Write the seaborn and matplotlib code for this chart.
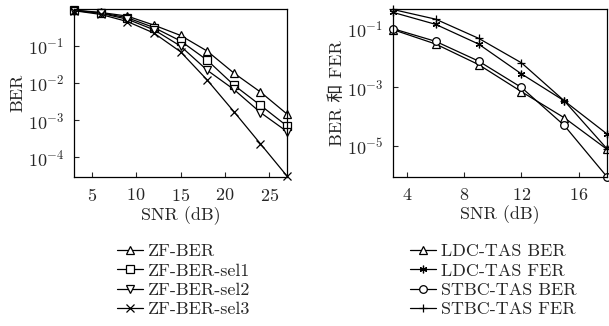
import matplotlib
matplotlib.use("Agg")
import matplotlib.pyplot as plt
import numpy as np
import pandas as pd
import seaborn as sns
from matplotlib.ticker import LogFormatterMathtext, NullLocator

# left panel: ZF BER curves
snr_left = [3, 6, 9, 12, 15, 18, 21, 24, 27]
zf_ber = [0.91, 0.79, 0.63, 0.36, 0.19, 0.072, 0.0185, 0.0057, 0.00145]
zf_sel1 = [0.90, 0.77, 0.57, 0.31, 0.135, 0.041, 0.0088, 0.0025, 0.00069]
zf_sel2 = [0.89, 0.75, 0.52, 0.27, 0.098, 0.022, 0.0067, 0.0016, 0.00049]
zf_sel3 = [0.88, 0.70, 0.45, 0.22, 0.069, 0.012, 0.0017, 0.00023, 0.000031]

# right panel: LDC-TAS vs STBC-TAS
snr_right = [3, 6, 9, 12, 15, 18]
ldc_ber = [0.093, 0.030, 0.0060, 0.00072, 0.000093, 0.0000078]
ldc_fer = [0.36, 0.14, 0.030, 0.0029, 0.00035, 0.000026]
stbc_ber = [0.10, 0.037, 0.0079, 0.0010, 0.000051, 0.00000090]
stbc_fer = [0.45, 0.21, 0.047, 0.0069, 0.00035, 0.0000081]

FS = 13

sns.set_style("ticks")
plt.rcParams["font.family"] = ["cmr10", "Noto Sans CJK SC"]
plt.rcParams["mathtext.fontset"] = "cm"
plt.rcParams["axes.formatter.use_mathtext"] = True
plt.rcParams["axes.unicode_minus"] = False
plt.rcParams["xtick.direction"] = "in"
plt.rcParams["ytick.direction"] = "in"
plt.rcParams["font.size"] = FS

fig = plt.figure(figsize=(6.09, 3.26), dpi=100)
ax1 = fig.add_axes([0.1215, 0.457, 0.350, 0.514])
ax2 = fig.add_axes([0.645, 0.457, 0.352, 0.514])

mk = dict(color="black", linewidth=0.9, markersize=5.5, markerfacecolor="white",
          markeredgecolor="black", markeredgewidth=0.9, clip_on=False)

left_series = [("ZF-BER", zf_ber, "^"), ("ZF-BER-sel1", zf_sel1, "s"),
               ("ZF-BER-sel2", zf_sel2, "v"), ("ZF-BER-sel3", zf_sel3, "x")]
for name, vals, m in left_series:
    sns.lineplot(x=snr_left, y=vals, ax=ax1, marker=m, label=name, **mk)

right_series = [("LDC-TAS BER", ldc_ber, "^"), ("LDC-TAS FER", ldc_fer, (6, 2, 0)),
                ("STBC-TAS BER", stbc_ber, "o"), ("STBC-TAS FER", stbc_fer, "+")]
for name, vals, m in right_series:
    sns.lineplot(x=snr_right, y=vals, ax=ax2, marker=m, label=name, **mk)

for ax in (ax1, ax2):
    ax.set_yscale("log")
    ax.yaxis.set_minor_locator(NullLocator())
    ax.xaxis.set_minor_locator(NullLocator())
    ax.yaxis.set_major_formatter(LogFormatterMathtext())
    ax.tick_params(axis="both", which="major", length=3.5, width=0.8,
                   labelsize=FS, pad=7)
    for s in ax.spines.values():
        s.set_color("black")
        s.set_linewidth(0.9)
    ax.set_xlabel("SNR (dB)", fontsize=FS, labelpad=2)

ax1.set_xlim(3, 27)
ax1.set_ylim(2.95e-5, 0.95)
ax1.set_xticks([5, 10, 15, 20, 25])
ax1.set_yticks([1e-4, 1e-3, 1e-2, 1e-1])
ax1.set_ylabel("BER", fontsize=FS, labelpad=1.5)

ax2.set_xlim(3, 18)
ax2.set_ylim(min(stbc_ber), max(stbc_fer))
ax2.set_xticks([4, 8, 12, 16])
ax2.set_yticks([1e-5, 1e-3, 1e-1])
ax2.set_ylabel("BER 和 FER", fontsize=FS, labelpad=1.5)

leg_kw = dict(loc="upper left", bbox_transform=fig.transFigure, frameon=False,
              borderpad=0, borderaxespad=0, handlelength=1.45, handletextpad=0.3,
              labelspacing=0.2, fontsize=FS)
ax1.legend(bbox_to_anchor=(0.1916, 0.252), **leg_kw)
ax2.legend(bbox_to_anchor=(0.673, 0.252), **leg_kw)

fig.savefig("out.png", dpi=100)
